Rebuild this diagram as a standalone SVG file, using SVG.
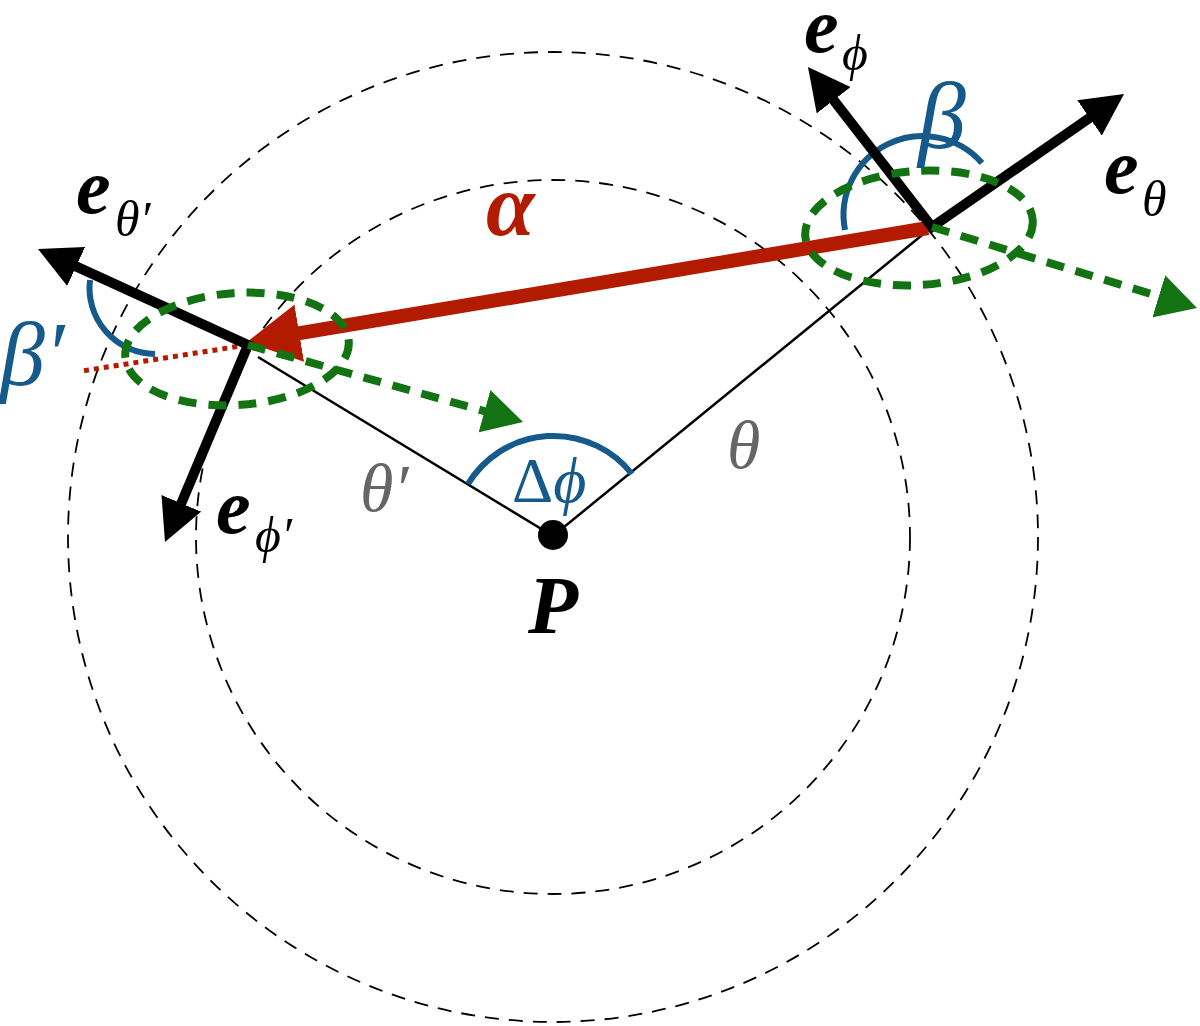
<svg xmlns="http://www.w3.org/2000/svg" width="1200" height="1026" viewBox="0 0 1200 1026">
<style>
.m{font-family:'Liberation Serif',serif;font-style:italic}
.eb{font-weight:bold;font-size:78px;fill:#000}
.sub{font-size:50px;fill:#000}
.circ{fill:none;stroke:#000;stroke-width:1.8;stroke-dasharray:14 10}
.thin{stroke:#000;stroke-width:2.5;fill:none}
.vec{stroke:#000;stroke-width:10;fill:none;stroke-linejoin:miter}
.grn{stroke:#137313;stroke-width:8;fill:none;stroke-dasharray:18 12}
.arc{stroke:#155a8a;stroke-width:6;fill:none}
.blue{fill:#155a8a}
.gray{fill:#666}
</style>
<defs>
<marker id="ab" markerUnits="userSpaceOnUse" viewBox="0 0 42 43" markerWidth="42" markerHeight="43" refX="8" refY="21.5" orient="auto-start-reverse"><path d="M0,0 L42,21.5 L0,43 z" fill="#000"/></marker>
<marker id="ar" markerUnits="userSpaceOnUse" viewBox="0 0 53 58" markerWidth="53" markerHeight="58" refX="10" refY="29" orient="auto"><path d="M0,0 L53,29 L0,58 z" fill="#b31b00"/></marker>
<marker id="ag" markerUnits="userSpaceOnUse" viewBox="0 0 40 44" markerWidth="40" markerHeight="44" refX="6" refY="22" orient="auto"><path d="M0,0 L40,22 L0,44 z" fill="#137313"/></marker>
</defs>
<rect width="1200" height="1026" fill="#fff"/>
<g id="circles">
<circle class="circ" cx="553" cy="537" r="357"/>
<circle class="circ" cx="553" cy="537" r="485"/>
</g>
<g id="connectors">
<line class="thin" x1="553" y1="536" x2="258" y2="357"/>
<line class="thin" x1="553" y1="536" x2="932" y2="227"/>
<path class="arc" d="M468 484 A100 100 0 0 1 632 474"/>
<line x1="247" y1="345" x2="82" y2="371" stroke="#b31b00" stroke-width="5" stroke-dasharray="5 5"/>
<line x1="928" y1="228" x2="289.4" y2="334.9" stroke="#b31b00" stroke-width="14" marker-end="url(#ar)"/>
<path class="arc" d="M845 230 A79 79 0 0 1 982 163"/>
<path class="arc" d="M90 280 A66 66 0 0 0 155 354"/>
<path class="vec" d="M828.8 93.9 L932 227 L1096.1 113.3" marker-start="url(#ab)" marker-end="url(#ab)"/>
<path class="vec" d="M68.9 263.1 L248 345 L178.2 510.7" marker-start="url(#ab)" marker-end="url(#ab)"/>
<ellipse class="grn" cx="919" cy="228" rx="114" ry="57" transform="rotate(-4 919 228)"/>
<ellipse class="grn" cx="237" cy="349" rx="112" ry="56" transform="rotate(-4 237 349)"/>
<line class="grn" x1="932" y1="227" x2="1164.5" y2="298.1" marker-end="url(#ag)"/>
<line class="grn" x1="248" y1="345" x2="490.3" y2="412.8" marker-end="url(#ag)"/>
</g>
<g id="P">
<circle cx="553" cy="535" r="15" fill="#000"/>
<text class="m" x="528" y="633" font-size="82" font-weight="bold">P</text>
</g>
<g id="labels">
<text class="m" x="486" y="235" font-size="88" font-weight="bold" fill="#b31b00">α</text>
<text class="m blue" x="918" y="148" font-size="96">β</text>
<text class="m blue" x="0" y="385" font-size="90">β′</text>
<text class="m gray" x="360" y="511" font-size="68">θ′</text>
<text class="m gray" x="727" y="468" font-size="68">θ</text>
<text class="m blue" x="512" y="502" font-size="64"><tspan font-style="normal">Δ</tspan>ϕ</text>
<text class="m eb" x="76" y="213">e</text><text class="m sub" x="115" y="236">θ′</text>
<text class="m eb" x="804" y="52" font-size="74">e</text><text class="m sub" x="842" y="70">ϕ</text>
<text class="m eb" x="1104" y="193">e</text><text class="m sub" x="1142" y="216">θ</text>
<text class="m eb" x="216" y="533">e</text><text class="m sub" x="255" y="552">ϕ′</text>
</g>
</svg>
